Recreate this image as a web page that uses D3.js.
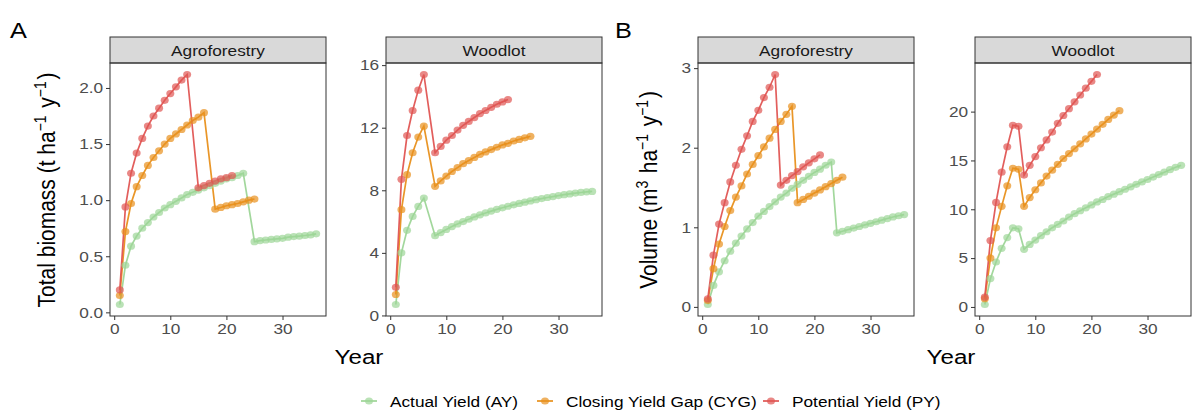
<!DOCTYPE html>
<html><head><meta charset="utf-8">
<script src="https://cdn.jsdelivr.net/npm/d3@7"></script>
<style>body{margin:0;background:#fff}svg{display:block;font-family:"Liberation Sans",Arial,sans-serif}</style>
</head><body>
<svg id="chart" width="1193" height="419"></svg>
<script>
// ---- Data (year = index + 1; null = no value that year) ----
const seriesNames = ["Actual Yield (AY)", "Closing Yield Gap (CYG)", "Potential Yield (PY)"];
const xTicks = [0, 10, 20, 30];

// A: Total biomass, Agroforestry
const biomassAgroAY = [0.07,0.42,0.59,0.68,0.75,0.80,0.85,0.89,0.93,0.96,0.99,1.02,1.05,1.07,1.09,1.11,1.13,1.15,1.17,1.19,1.20,1.22,1.24,null,0.63,0.64,0.645,0.65,0.655,0.66,0.67,0.675,0.68,0.685,0.69,0.70];
const biomassAgroCYG = [0.15,0.72,0.97,1.12,1.22,1.31,1.38,1.44,1.50,1.55,1.59,1.63,1.67,1.71,1.74,1.78,null,0.92,0.935,0.95,0.96,0.97,0.985,1.00,1.01];
const biomassAgroPY = [0.20,0.94,1.24,1.42,1.55,1.66,1.75,1.82,1.89,1.95,2.01,2.07,2.12,null,1.11,1.13,1.15,1.17,1.19,1.20,1.22];
const biomassAgroYTicks = [0.0, 0.5, 1.0, 1.5, 2.0];

// A: Total biomass, Woodlot
const biomassWoodAY = [0.7,4.0,5.44,6.33,6.97,7.5,null,5.1,5.3,5.5,5.68,5.85,6.0,6.15,6.3,6.43,6.55,6.67,6.78,6.88,6.98,7.07,7.16,7.24,7.32,7.4,7.47,7.54,7.6,7.66,7.72,7.77,7.82,7.86,7.9,7.93];
const biomassWoodCYG = [1.34,6.76,9.0,10.4,11.4,12.1,null,8.25,8.6,8.9,9.2,9.45,9.7,9.9,10.1,10.3,10.45,10.6,10.75,10.9,11.0,11.15,11.25,11.35,11.45];
const biomassWoodPY = [1.8,8.7,11.5,13.1,14.4,15.4,null,10.4,10.8,11.2,11.5,11.85,12.15,12.4,12.65,12.9,13.1,13.3,13.5,13.65,13.8];
const biomassWoodYTicks = [0, 4, 8, 12, 16];

// B: Volume, Agroforestry
const volumeAgroAY = [0.03,0.27,0.44,0.58,0.70,0.80,0.89,0.98,1.06,1.14,1.20,1.26,1.32,1.38,1.43,1.49,1.54,1.59,1.64,1.69,1.73,1.78,1.82,0.93,0.95,0.97,0.99,1.01,1.03,1.05,1.07,1.09,1.11,1.13,1.145,1.16];
const volumeAgroCYG = [0.08,0.48,0.79,1.01,1.21,1.38,1.52,1.67,1.79,1.90,2.01,2.12,2.23,2.33,2.42,2.52,1.31,1.35,1.39,1.43,1.47,1.51,1.55,1.59,1.63];
const volumeAgroPY = [0.10,0.65,1.04,1.31,1.57,1.78,1.98,2.15,2.33,2.47,2.63,2.76,2.92,1.53,1.59,1.65,1.70,1.76,1.81,1.86,1.91];
const volumeAgroYTicks = [0, 1, 2, 3];

// B: Volume, Woodlot
const volumeWoodAY = [0.25,2.9,4.6,6.0,7.1,8.1,8.0,5.9,6.4,6.85,7.3,7.7,8.1,8.45,8.8,9.2,9.55,9.85,10.15,10.45,10.75,11.0,11.3,11.55,11.8,12.05,12.3,12.55,12.8,13.05,13.3,13.55,13.8,14.05,14.3,14.5];
const volumeWoodCYG = [0.85,5.0,8.1,10.3,12.4,14.2,14.1,10.3,11.2,12.0,12.7,13.4,14.0,14.6,15.2,15.7,16.2,16.7,17.2,17.7,18.2,18.7,19.2,19.65,20.1];
const volumeWoodPY = [1.0,6.8,10.7,13.8,16.4,18.6,18.5,13.5,14.5,15.4,16.3,17.1,17.9,18.8,19.6,20.3,21.0,21.7,22.4,23.1,23.8];
const volumeWoodYTicks = [0, 5, 10, 15, 20];

// ---- Styling / layout ----
const colors = ["#9dd597", "#e8901c", "#e05553"];
const font = '"Liberation Sans", Arial, sans-serif';
const sx = 1.15; // horizontal stretch of the reference text
const plotTop = 63, plotBottom = 316, stripTop = 37;

const panels = [
  {title: "Agroforestry", x0: 110, x1: 326, series: [biomassAgroAY, biomassAgroCYG, biomassAgroPY], yTicks: biomassAgroYTicks, fmt: d3.format(".1f")},
  {title: "Woodlot", x0: 386, x1: 602, series: [biomassWoodAY, biomassWoodCYG, biomassWoodPY], yTicks: biomassWoodYTicks, fmt: d3.format("d")},
  {title: "Agroforestry", x0: 698, x1: 914, series: [volumeAgroAY, volumeAgroCYG, volumeAgroPY], yTicks: volumeAgroYTicks, fmt: d3.format("d")},
  {title: "Woodlot", x0: 975, x1: 1191, series: [volumeWoodAY, volumeWoodCYG, volumeWoodPY], yTicks: volumeWoodYTicks, fmt: d3.format("d")}
];

const svg = d3.select("#chart");

function toPoints(arr) {
  return arr.map((v, i) => ({year: i + 1, value: v})).filter(d => d.value !== null);
}
function hText(sel, x, y, txt, size, anchor, fill) {
  return sel.append("text").attr("transform", `translate(${x},${y}) scale(${sx},1)`)
    .attr("text-anchor", anchor).attr("font-size", size).attr("fill", fill || "#000").text(txt);
}

panels.forEach(p => {
  const all = p.series.flatMap(s => toPoints(s));
  const yMin = d3.min(all, d => d.value), yMax = d3.max(all, d => d.value);
  const yPad = (yMax - yMin) * 0.05;
  const xMin = 1, xMax = d3.max(p.series, s => s.length);
  const xPad = (xMax - xMin) * 0.05;
  const x = d3.scaleLinear().domain([xMin - xPad, xMax + xPad]).range([p.x0, p.x1]);
  const y = d3.scaleLinear().domain([yMin - yPad, yMax + yPad]).range([plotBottom, plotTop]);

  const g = svg.append("g");
  // strip
  g.append("rect").attr("x", p.x0).attr("y", stripTop).attr("width", p.x1 - p.x0).attr("height", plotTop - stripTop)
    .attr("fill", "#d9d9d9").attr("stroke", "#333").attr("stroke-width", 1);
  hText(g, (p.x0 + p.x1) / 2, (stripTop + plotTop) / 2 + 5.5, p.title, 15, "middle", "#1a1a1a");

  // lines then points
  const line = d3.line().x(d => x(d.year)).y(d => y(d.value));
  p.series.forEach((s, i) => {
    g.append("path").datum(toPoints(s)).attr("d", line).attr("fill", "none")
      .attr("stroke", colors[i]).attr("stroke-width", 1.7).attr("stroke-opacity", 0.95);
  });
  p.series.forEach((s, i) => {
    g.selectAll(null).data(toPoints(s)).enter().append("ellipse")
      .attr("cx", d => x(d.year)).attr("cy", d => y(d.value)).attr("rx", 4.0).attr("ry", 3.6)
      .attr("fill", colors[i]).attr("fill-opacity", 0.7);
  });

  // border
  g.append("rect").attr("x", p.x0).attr("y", plotTop).attr("width", p.x1 - p.x0).attr("height", plotBottom - plotTop)
    .attr("fill", "none").attr("stroke", "#333").attr("stroke-width", 1);

  // axes
  const xa = g.append("g").attr("transform", `translate(0,${plotBottom})`)
    .call(d3.axisBottom(x).tickValues(xTicks).tickSize(4).tickPadding(3).tickFormat(d3.format("d")));
  const ya = g.append("g").attr("transform", `translate(${p.x0},0)`)
    .call(d3.axisLeft(y).tickValues(p.yTicks).tickSize(4).tickPadding(2).tickFormat(p.fmt));
  [xa, ya].forEach(a => {
    a.select(".domain").remove();
    a.selectAll("line").attr("stroke", "#333");
    a.selectAll("text").attr("font-size", 15).attr("fill", "#4d4d4d").attr("font-family", font)
      .attr("transform", `scale(${sx},1)`);
  });
});

// Axis titles
function yTitle(xPos, parts) {
  const t = svg.append("text").attr("transform", `translate(${xPos},190) scale(${sx},1) rotate(-90)`)
    .attr("text-anchor", "middle").attr("font-size", 21).attr("fill", "#000");
  parts.forEach(([txt, sup]) => {
    if (sup) {
      t.append("tspan").attr("dy", -8).attr("font-size", 14).text(txt);
      t.append("tspan").attr("dy", 8).text("\u200A");
    } else {
      t.append("tspan").text(txt);
    }
  });
}
yTitle(55, [["Total biomass (t ha", false], ["\u22121", true], [" y", false], ["\u22121", true], [")", false]]);
yTitle(657, [["Volume (m", false], ["3", true], [" ha", false], ["\u22121", true], [" y", false], ["\u22121", true], [")", false]]);

hText(svg, 359, 364, "Year", 21, "middle");
hText(svg, 951, 364, "Year", 21, "middle");
hText(svg, 10, 38, "A", 22, "start");
hText(svg, 615, 38, "B", 22, "start");

// Legend
const legendX = [369, 545, 771];
const legend = svg.append("g");
seriesNames.forEach((name, i) => {
  const cx = legendX[i], cy = 401;
  legend.append("line").attr("x1", cx - 8).attr("x2", cx + 8).attr("y1", cy).attr("y2", cy)
    .attr("stroke", colors[i]).attr("stroke-width", 1.7);
  legend.append("ellipse").attr("cx", cx).attr("cy", cy).attr("rx", 4.0).attr("ry", 3.6).attr("fill", colors[i]).attr("fill-opacity", 0.7);
  hText(legend, cx + 21, cy + 5.5, name, 15, "start");
});
</script>
</body></html>
